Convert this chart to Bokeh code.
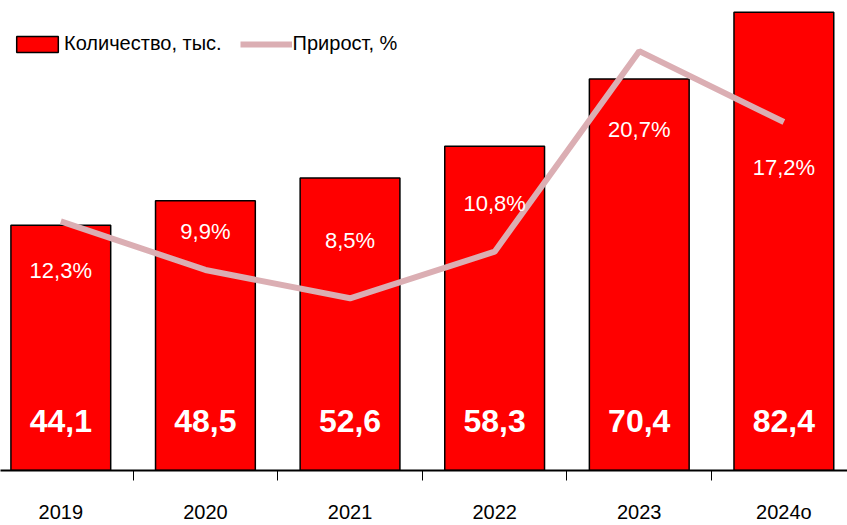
from bokeh.plotting import figure
from bokeh.models import (ColumnDataSource, Range1d, FixedTicker,
                          Legend, LegendItem)
from bokeh.core.properties import value
from bokeh.embed import file_html
from bokeh.resources import INLINE

# ---- data ----
years = ["2019", "2020", "2021", "2022", "2023", "2024о"]
counts = [44.1, 48.5, 52.6, 58.3, 70.4, 82.4]
growth = [12.3, 9.9, 8.5, 10.8, 20.7, 17.2]

# ---- styling / layout ----
FONT = "Liberation Sans"
pct_label_dy = [49, -38, -58, -48, 78, 45]   # screen px offsets of % labels from line points
RED = "#FF0000"
LINE_COL = "#DBAEB3"

xpos = [i + 0.5 for i in range(len(years))]
count_txt = [f"{v:.1f}".replace(".", ",") for v in counts]
growth_txt = [f"{v:.1f}%".replace(".", ",") for v in growth]

src = ColumnDataSource(dict(x=xpos, counts=counts, growth=growth,
                            ctxt=count_txt, gtxt=growth_txt, gdy=pct_label_dy))

W, H = 847, 525
p = figure(width=W, height=H, output_backend="svg", toolbar_location=None,
           x_range=Range1d(0.083, 5.94), y_range=Range1d(0, 84.5),
           min_border_left=0, min_border_right=0, min_border_top=0,
           min_border_bottom=55, outline_line_color=None)
p.background_fill_color = "white"
p.border_fill_color = "white"
p.grid.visible = False
p.yaxis.visible = False
p.extra_y_ranges = {"pct": Range1d(0, 23.2)}

# x axis: labels at centres, boundary ticks as minor ticks
p.xaxis.ticker = FixedTicker(ticks=xpos, minor_ticks=[1, 2, 3, 4, 5])
p.xaxis.major_label_overrides = {x: y for x, y in zip(xpos, years)}
p.xaxis.major_tick_out = 0
p.xaxis.major_tick_in = 0
p.xaxis.minor_tick_out = 10
p.xaxis.minor_tick_in = 0
p.xaxis.minor_tick_line_color = "black"
p.xaxis.minor_tick_line_width = 1
p.xaxis.axis_line_color = "black"
p.xaxis.axis_line_width = 2
p.xaxis.major_label_standoff = 20
p.xaxis.major_label_text_font = FONT
p.xaxis.major_label_text_font_size = "20px"
p.xaxis.major_label_text_color = "black"

bars = p.vbar(x="x", top="counts", width=0.69, bottom=0, source=src,
              fill_color=RED, line_color="black", line_width=1.5)

line = p.line(x="x", y="growth", source=src, y_range_name="pct",
              line_color=LINE_COL, line_width=6)

p.text(x="x", y=0, text="ctxt", source=src, y_offset=-50,
       text_align="center", text_baseline="middle",
       text_font=value(FONT), text_font_style="bold",
       text_font_size="32px", text_color="white")

p.text(x="x", y="growth", text="gtxt", source=src, y_range_name="pct",
       y_offset="gdy", text_align="center", text_baseline="middle",
       text_font=value(FONT), text_font_size="22px", text_color="white")

legend = Legend(items=[LegendItem(label="Количество, тыс.", renderers=[bars]),
                       LegendItem(label="Прирост, %", renderers=[line])],
                orientation="horizontal",
                background_fill_alpha=0, border_line_color=None,
                glyph_width=52, glyph_height=20, label_standoff=1,
                spacing=18, padding=0, margin=0,
                label_text_font=FONT, label_text_font_size="20px",
                label_text_color="black")
legend.location = (11, 470 - 31 - 24)
p.add_layout(legend)

open("out.html", "w").write(file_html(p, INLINE))
